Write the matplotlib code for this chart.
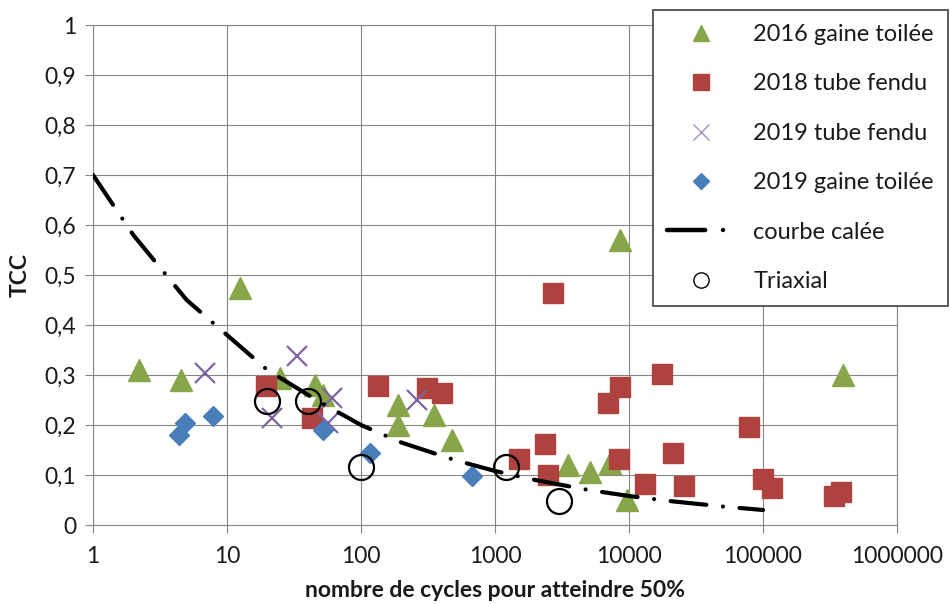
import matplotlib
matplotlib.use("Agg")
import matplotlib.pyplot as plt
from matplotlib.lines import Line2D

plt.rcParams['font.family'] = ['Lato', 'DejaVu Sans']

# ---- data ----
g2016_x = [2.2, 4.5, 12.5, 25, 45, 52, 189, 190, 351, 478, 3500, 5100, 7200, 9660, 8570, 395000]
g2016_y = [0.31, 0.29, 0.474, 0.294, 0.28, 0.26, 0.24, 0.20, 0.22, 0.17, 0.12, 0.106, 0.124, 0.05, 0.57, 0.30]

t2018_x = [19.5, 43, 134, 311, 402, 1510, 2710, 2360, 2486, 6970, 8570, 8440, 17600, 13160,
           21300, 25700, 78700, 100000, 117000, 340000, 380000]
t2018_y = [0.278, 0.214, 0.278, 0.274, 0.264, 0.132, 0.464, 0.162, 0.10, 0.244, 0.276, 0.132,
           0.302, 0.082, 0.144, 0.078, 0.196, 0.092, 0.074, 0.058, 0.066]

t2019_x = [6.85, 21.7, 33.3, 60.8, 56.7, 262]
t2019_y = [0.304, 0.214, 0.338, 0.254, 0.204, 0.25]

g2019_x = [4.38, 4.86, 7.87, 52, 117, 673]
g2019_y = [0.18, 0.204, 0.218, 0.19, 0.144, 0.098]

courbe_x = [1, 2, 5, 10, 20, 50, 100, 200, 500, 1000, 2000, 5000, 10000, 20000, 50000, 100000]
courbe_y = [0.70, 0.58, 0.45, 0.38, 0.31, 0.245, 0.20, 0.165, 0.13, 0.108, 0.09, 0.07, 0.058,
            0.048, 0.037, 0.03]

triax_x = [20, 40, 100, 1200, 3000]
triax_y = [0.248, 0.248, 0.116, 0.116, 0.048]

x_ticks = [1, 10, 100, 1000, 10000, 100000, 1000000]
x_ticklabels = ['1', '10', '100', '1000', '10000', '100000', '1000000']
y_ticks = [0, 0.1, 0.2, 0.3, 0.4, 0.5, 0.6, 0.7, 0.8, 0.9, 1.0]
y_ticklabels = ['0', '0,1', '0,2', '0,3', '0,4', '0,5', '0,6', '0,7', '0,8', '0,9', '1']

labels = ['2016 gaine toilée', '2018 tube fendu', '2019 tube fendu', '2019 gaine toilée',
          'courbe calée', 'Triaxial']

# ---- styles ----
GREEN = '#87A64A'
RED = '#AE423F'
PURPLE = '#8064A2'
BLUE = '#4A7EBB'
GRID = '#868686'
TXT = '#1a1a1a'
DASH = (0, (8.6, 4.0, 0.01, 4.0))

fig = plt.figure(figsize=(9.5, 6.04), dpi=100)
ax = fig.add_axes([93/950, 79/604, 804/950, 500/604])

ax.set_xscale('log')
ax.set_xlim(1, 1e6)
ax.set_ylim(0, 1)

ax.plot(g2016_x, g2016_y, linestyle='none', marker='^', ms=16, color=GREEN, mec=GREEN, zorder=3)
ax.plot(t2018_x, t2018_y, linestyle='none', marker='s', ms=15, color=RED, mec=RED, zorder=3)
ax.plot(t2019_x, t2019_y, linestyle='none', marker='x', ms=15, color=PURPLE, mew=1.6, zorder=3)
ax.plot(g2019_x, g2019_y, linestyle='none', marker='D', ms=10.5, color=BLUE, mec=BLUE, zorder=3)
ax.plot(courbe_x, courbe_y, color='black', lw=3, linestyle=DASH, dash_capstyle='round', zorder=4)
ax.plot(triax_x, triax_y, linestyle='none', marker='o', ms=18, mfc='none', mec='black', mew=1.6,
        zorder=5)

ax.set_xticks(x_ticks)
ax.set_xticklabels(x_ticklabels)
ax.xaxis.set_minor_locator(matplotlib.ticker.NullLocator())
ax.set_yticks(y_ticks)
ax.set_yticklabels(y_ticklabels)

ax.grid(True, which='major', color=GRID, lw=0.8)
ax.set_axisbelow(True)
for s in ax.spines.values():
    s.set_color(GRID)
    s.set_linewidth(0.8)
ax.tick_params(axis='both', which='major', length=6, width=0.8, color=GRID,
               labelsize=16.5, labelcolor=TXT)
ax.tick_params(axis='x', pad=9)
ax.tick_params(axis='y', pad=6)

ax.set_xlabel('nombre de cycles pour atteindre 50%', fontsize=16.5, fontweight='bold', color=TXT)
ax.xaxis.set_label_coords(0.5, -0.11)
ax.set_ylabel('TCC', fontsize=16.5, fontweight='bold', color=TXT)
ax.yaxis.set_label_coords(-0.078, 0.5)

handles = [
    Line2D([], [], linestyle='none', marker='^', ms=12, color=GREEN),
    Line2D([], [], linestyle='none', marker='s', ms=12, color=RED),
    Line2D([], [], linestyle='none', marker='x', ms=12, color='#A592C0', mew=1.0),
    Line2D([], [], linestyle='none', marker='D', ms=8.5, color=BLUE),
    Line2D([], [], color='black', lw=3.2, linestyle=DASH, dash_capstyle='round'),
    Line2D([], [], linestyle='none', marker='o', ms=11, mfc='none', mec='black', mew=1.0),
]
leg = ax.legend(handles, labels, loc='upper left', bbox_to_anchor=(653/950, 1 - 10/604),
                bbox_transform=fig.transFigure, fontsize=17, frameon=True, fancybox=False,
                framealpha=1, edgecolor='#404040', borderpad=0.6, labelspacing=1.2,
                handlelength=2.9, handletextpad=0.75, numpoints=1, borderaxespad=0)
leg.get_frame().set_linewidth(1.2)
for t in leg.get_texts():
    t.set_color(TXT)

fig.savefig('out.png', dpi=100)
